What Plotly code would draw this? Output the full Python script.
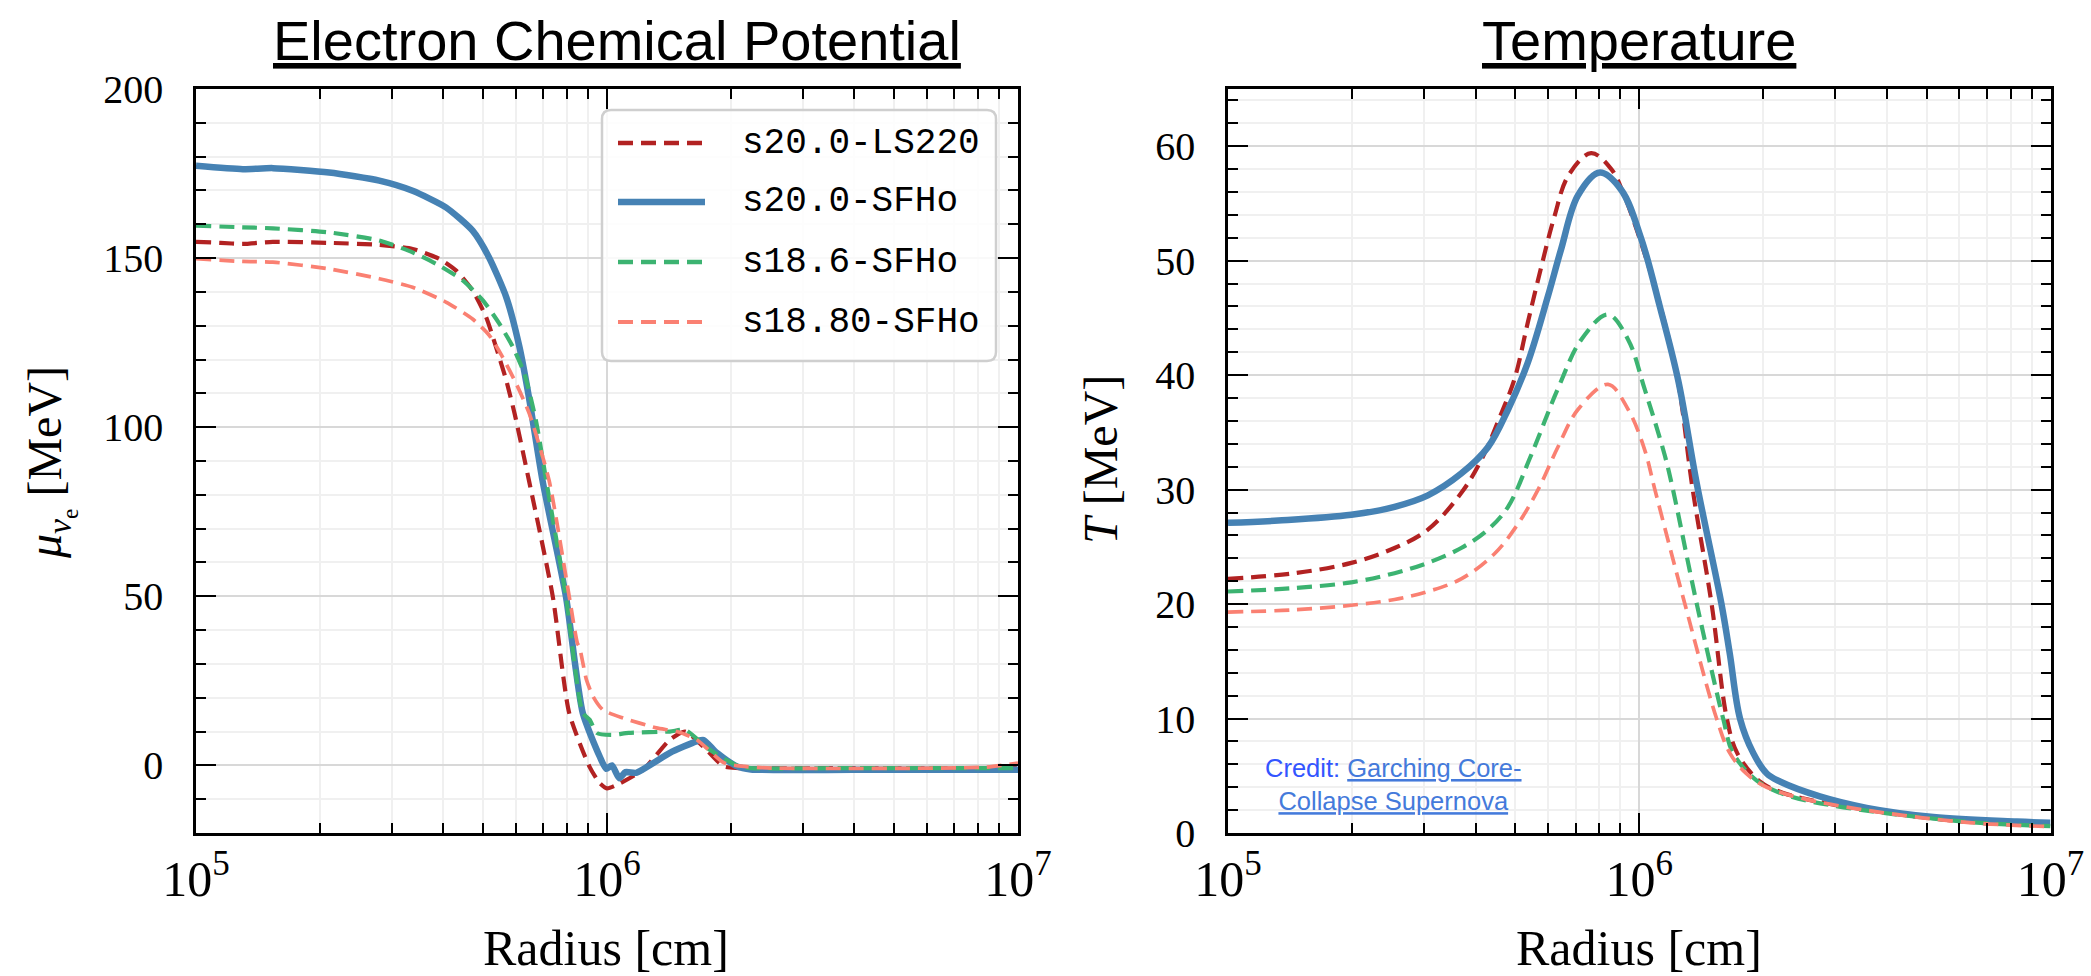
import numpy as np
import plotly.graph_objects as go

W, H = 2091, 976

# ---------------- data ----------------
# Electron-neutrino chemical potential [MeV] versus log10(radius / cm)
mu_ls220_logr = [5.000, 5.060, 5.114, 5.187, 5.324, 5.446, 5.527, 5.592, 5.633, 5.673, 5.706,
                 5.730, 5.755, 5.775, 5.810, 5.868, 5.908, 5.957, 5.982, 6.000, 6.020, 6.088,
                 6.153, 6.190, 6.234, 6.284, 6.320, 6.600, 7.000]
mu_ls220 = [154.8, 154.5, 154.2, 154.8, 154.5, 153.9, 152.7, 149.8, 146.3, 140.4, 132.5,
            123.7, 113.8, 104.1, 84.3, 50.0, 15.5, -0.3, -5.2, -6.8, -6.0, -1.3,
            7.6, 10.0, 5.6, -0.3, -0.8, -0.8, -0.8]

mu_s20_logr = [5.000, 5.114, 5.187, 5.324, 5.446, 5.527, 5.608, 5.673, 5.713, 5.755, 5.787,
               5.810, 5.843, 5.900, 5.941, 5.982, 5.998, 6.012, 6.030, 6.045, 6.071, 6.110,
               6.153, 6.218, 6.235, 6.267, 6.316, 6.350, 6.600, 7.000]
mu_s20 = [177.3, 176.3, 176.6, 175.3, 172.9, 169.9, 165.0, 158.1, 150.2, 138.4, 123.7,
          108.9, 84.3, 50.0, 15.5, 2.7, -1.0, 0.0, -3.8, -2.0, -2.2, 0.5,
          3.7, 7.1, 7.5, 3.7, -0.3, -1.2, -1.3, -1.3]

mu_s186_logr = [5.000, 5.114, 5.187, 5.324, 5.446, 5.527, 5.592, 5.649, 5.698, 5.738, 5.771,
                5.799, 5.827, 5.852, 5.900, 5.941, 5.958, 5.975, 6.010, 6.053, 6.153, 6.190,
                6.250, 6.316, 6.350, 6.600, 7.000]
mu_s186 = [159.6, 159.1, 158.8, 157.6, 155.2, 151.7, 147.8, 143.4, 137.5, 130.6, 123.7,
           115.8, 102.0, 84.3, 50.0, 15.5, 13.5, 9.6, 9.0, 9.6, 10.0, 10.5,
           4.6, 0.0, -0.8, -0.8, -0.8]

mu_s1880_logr = [5.000, 5.114, 5.187, 5.324, 5.446, 5.527, 5.608, 5.673, 5.714, 5.746, 5.779,
                 5.811, 5.859, 5.908, 5.928, 5.933, 5.950, 5.966, 5.990, 6.039, 6.120, 6.170,
                 6.218, 6.284, 6.316, 6.400, 6.924, 7.000]
mu_s1880 = [149.8, 149.0, 148.8, 146.8, 143.9, 141.4, 137.0, 132.0, 127.1, 120.7, 112.9,
            104.0, 84.3, 50.0, 36.1, 35.0, 25.3, 20.4, 16.4, 14.0, 11.1, 10.0,
            7.6, 0.8, -0.1, -0.8, -0.5, 0.7]

# Temperature [MeV] versus log10(radius / cm)
T_ls220_logr = [5.000, 5.162, 5.300, 5.405, 5.486, 5.567, 5.616, 5.665, 5.697, 5.729, 5.762,
                5.794, 5.827, 5.883, 5.932, 5.960, 6.005, 6.053, 6.094, 6.130, 6.176, 6.213,
                6.238, 6.293, 6.350, 6.470, 6.790, 7.000]
T_ls220 = [22.2, 22.7, 23.6, 24.9, 26.5, 29.7, 32.6, 36.7, 39.7, 44.6, 49.5,
           53.9, 57.4, 59.4, 58.0, 56.0, 51.5, 45.8, 39.5, 30.0, 20.0, 10.0,
           7.0, 4.5, 3.5, 2.5, 1.0, 0.7]

T_s20_logr = [5.000, 5.122, 5.300, 5.405, 5.486, 5.567, 5.632, 5.681, 5.729, 5.778, 5.810,
              5.851, 5.904, 5.956, 6.005, 6.050, 6.095, 6.140, 6.200, 6.220, 6.245, 6.277,
              6.310, 6.342, 6.439, 6.553, 6.715, 6.918, 7.000]
T_s20 = [27.1, 27.3, 27.8, 28.5, 29.5, 31.4, 33.7, 37.0, 41.1, 46.9, 51.0,
         55.7, 57.7, 56.2, 51.9, 46.0, 39.5, 30.5, 20.0, 15.7, 10.0, 7.0,
         5.2, 4.5, 3.2, 2.2, 1.4, 1.0, 0.9]

T_s186_logr = [5.000, 5.162, 5.300, 5.405, 5.486, 5.567, 5.632, 5.681, 5.737, 5.802, 5.859,
               5.924, 5.973, 6.013, 6.062, 6.082, 6.140, 6.204, 6.228, 6.285, 6.350, 6.470,
               6.790, 7.000]
T_s186 = [21.1, 21.4, 21.9, 22.7, 23.6, 24.9, 26.5, 28.5, 33.0, 38.8, 43.1,
          45.3, 43.1, 38.8, 33.0, 30.0, 20.0, 10.0, 7.0, 4.6, 3.4, 2.4,
          1.0, 0.6]

T_s1880_logr = [5.000, 5.162, 5.300, 5.405, 5.486, 5.567, 5.648, 5.705, 5.754, 5.802, 5.851,
                5.924, 5.973, 6.013, 6.038, 6.111, 6.188, 6.220, 6.260, 6.310, 6.400, 6.550,
                6.790, 7.000]
T_s1880 = [19.3, 19.5, 19.9, 20.4, 21.1, 22.2, 24.4, 27.0, 30.0, 33.7, 37.0,
           39.2, 37.0, 33.5, 30.0, 20.0, 10.0, 7.0, 5.2, 4.0, 3.0, 2.0,
           0.95, 0.55]

series_names = ["s20.0-LS220", "s20.0-SFHo", "s18.6-SFHo", "s18.80-SFHo"]
mu_data = [(mu_ls220_logr, mu_ls220), (mu_s20_logr, mu_s20),
           (mu_s186_logr, mu_s186), (mu_s1880_logr, mu_s1880)]
T_data = [(T_ls220_logr, T_ls220), (T_s20_logr, T_s20),
          (T_s186_logr, T_s186), (T_s1880_logr, T_s1880)]

# ---------------- styles ----------------
colors = ["#b22222", "#4682b4", "#3cb371", "#fa8072"]
widths = [4.2, 6.5, 4.2, 3.7]
dashes = ["15px,8px", "solid", "15px,8px", "15px,8px"]

SERIF = "Liberation Serif"
SANS = "Liberation Sans"
MONO = "Liberation Mono"

fig = go.Figure()
for i, name in enumerate(series_names):
    for (lr, vals), xa, ya, smooth in [(mu_data[i], "x", "y", 0.6), (T_data[i], "x2", "y2", 1.0)]:
        fig.add_trace(go.Scatter(
            x=np.power(10.0, lr), y=vals, mode="lines", name=name,
            xaxis=xa, yaxis=ya, showlegend=False,
            line=dict(color=colors[i], width=widths[i], dash=dashes[i],
                      shape="spline", smoothing=smooth),
        ))

# plot-area geometry in pixels
L_X0, L_X1 = 196, 1018
R_X0, R_X1 = 1228, 2050.5
Y_TOP, Y_BOT = 89, 833


def px(x):
    return x / W


def py(y):
    return 1 - y / H


tickfont = dict(family=SERIF, size=40, color="black")
common_axis = dict(
    showline=True, linecolor="black", linewidth=2.5, mirror="allticks",
    ticks="inside", ticklen=20, tickwidth=2.2, tickcolor="black",
    showgrid=True, gridcolor="#d8d8d8", gridwidth=2, zeroline=False,
    tickfont=tickfont, automargin=False,
)
xaxis_common = dict(
    common_axis, type="log", range=[5, 7], dtick=1, exponentformat="power",
    showexponent="all", ticklabelstandoff=2,
    minor=dict(ticks="inside", ticklen=10, tickwidth=2, tickcolor="black", dtick="D1",
               showgrid=True, gridcolor="#f0f0f0", gridwidth=1.5),
)

fig.update_layout(
    width=W, height=H, margin=dict(l=0, r=0, t=0, b=0, autoexpand=False),
    paper_bgcolor="white", plot_bgcolor="white", showlegend=False,
    xaxis=dict(xaxis_common, domain=[px(L_X0), px(L_X1)], anchor="y"),
    xaxis2=dict(xaxis_common, domain=[px(R_X0), px(R_X1)], anchor="y2"),
    yaxis=dict(
        common_axis, domain=[py(Y_BOT), py(Y_TOP)], anchor="x", range=[-20, 200], dtick=50,
        ticklabelstandoff=22,
        minor=dict(ticks="inside", ticklen=10, tickwidth=2, tickcolor="black", dtick=10,
                   showgrid=True, gridcolor="#f0f0f0", gridwidth=1.5),
    ),
    yaxis2=dict(
        common_axis, domain=[py(Y_BOT), py(Y_TOP)], anchor="x2", range=[0, 65], dtick=10,
        ticklabelstandoff=22,
        minor=dict(ticks="inside", ticklen=10, tickwidth=2, tickcolor="black", dtick=2,
                   showgrid=True, gridcolor="#f0f0f0", gridwidth=1.5),
    ),
)

annotations = []
shapes = []

# panel titles
for text, cx in [("Electron Chemical Potential", 617), ("Temperature", 1639)]:
    annotations.append(dict(
        text=f"<u>{text}</u>", x=px(cx), y=py(40), xref="paper", yref="paper",
        xanchor="center", yanchor="middle", showarrow=False,
        font=dict(family=SANS, size=56, color="black"),
    ))

# axis titles
axis_font = dict(family=SERIF, size=50, color="black")
for cx in [606, 1639]:
    annotations.append(dict(
        text="Radius [cm]", x=px(cx), y=py(948), xref="paper", yref="paper",
        xanchor="center", yanchor="middle", showarrow=False, font=axis_font,
    ))
annotations.append(dict(
    text="<i>μ</i><sub><i>ν</i><sub>e</sub></sub> [MeV]", x=px(50), y=py(463),
    xref="paper", yref="paper", xanchor="center", yanchor="middle", textangle=-90,
    showarrow=False, font=dict(family=SERIF, size=48, color="black"),
))
annotations.append(dict(
    text="<i>T</i> [MeV]", x=px(1100), y=py(460),
    xref="paper", yref="paper", xanchor="center", yanchor="middle", textangle=-90,
    showarrow=False, font=dict(family=SERIF, size=48, color="black"),
))

# legend box with rounded corners
bx0, bx1, by0, by1, r = 602, 996, 110, 361, 9
rx, ry = r / W, r / H
path = (f"M {px(bx0) + rx},{py(by0)} L {px(bx1) - rx},{py(by0)} "
        f"Q {px(bx1)},{py(by0)} {px(bx1)},{py(by0) - ry} "
        f"L {px(bx1)},{py(by1) + ry} Q {px(bx1)},{py(by1)} {px(bx1) - rx},{py(by1)} "
        f"L {px(bx0) + rx},{py(by1)} Q {px(bx0)},{py(by1)} {px(bx0)},{py(by1) + ry} "
        f"L {px(bx0)},{py(by0) - ry} Q {px(bx0)},{py(by0)} {px(bx0) + rx},{py(by0)} Z")
shapes.append(dict(type="path", path=path, xref="paper", yref="paper",
                   fillcolor="rgba(255,255,255,0.85)", line=dict(color="#cfcfcf", width=2.5),
                   layer="above"))

legend_rows = [143, 202, 262, 322]
for i, name in enumerate(series_names):
    yy = py(legend_rows[i])
    shapes.append(dict(type="line", xref="paper", yref="paper",
                       x0=px(618), x1=px(705), y0=yy, y1=yy, layer="above",
                       line=dict(color=colors[i], width=widths[i] + (0.5 if i != 1 else 0),
                                 dash=dashes[i])))
    annotations.append(dict(
        text=name, x=px(740), y=yy, xref="paper", yref="paper",
        xanchor="left", yanchor="middle", showarrow=False,
        font=dict(family=MONO, size=36, color="black"),
    ))

# credit note
annotations.append(dict(
    text=('Credit: <a href="https://wwwmpa.mpa-garching.mpg.de/ccsnarchive/">'
          '<u>Garching Core-</u><br><u>Collapse Supernova</u></a>'),
    x=px(1393), y=py(784), xref="paper", yref="paper", xanchor="center", yanchor="middle",
    align="center", showarrow=False,
    font=dict(family=SANS, size=25.5, color="#3355ff"),
))

fig.update_layout(annotations=annotations, shapes=shapes)
fig.write_html("out.html")
